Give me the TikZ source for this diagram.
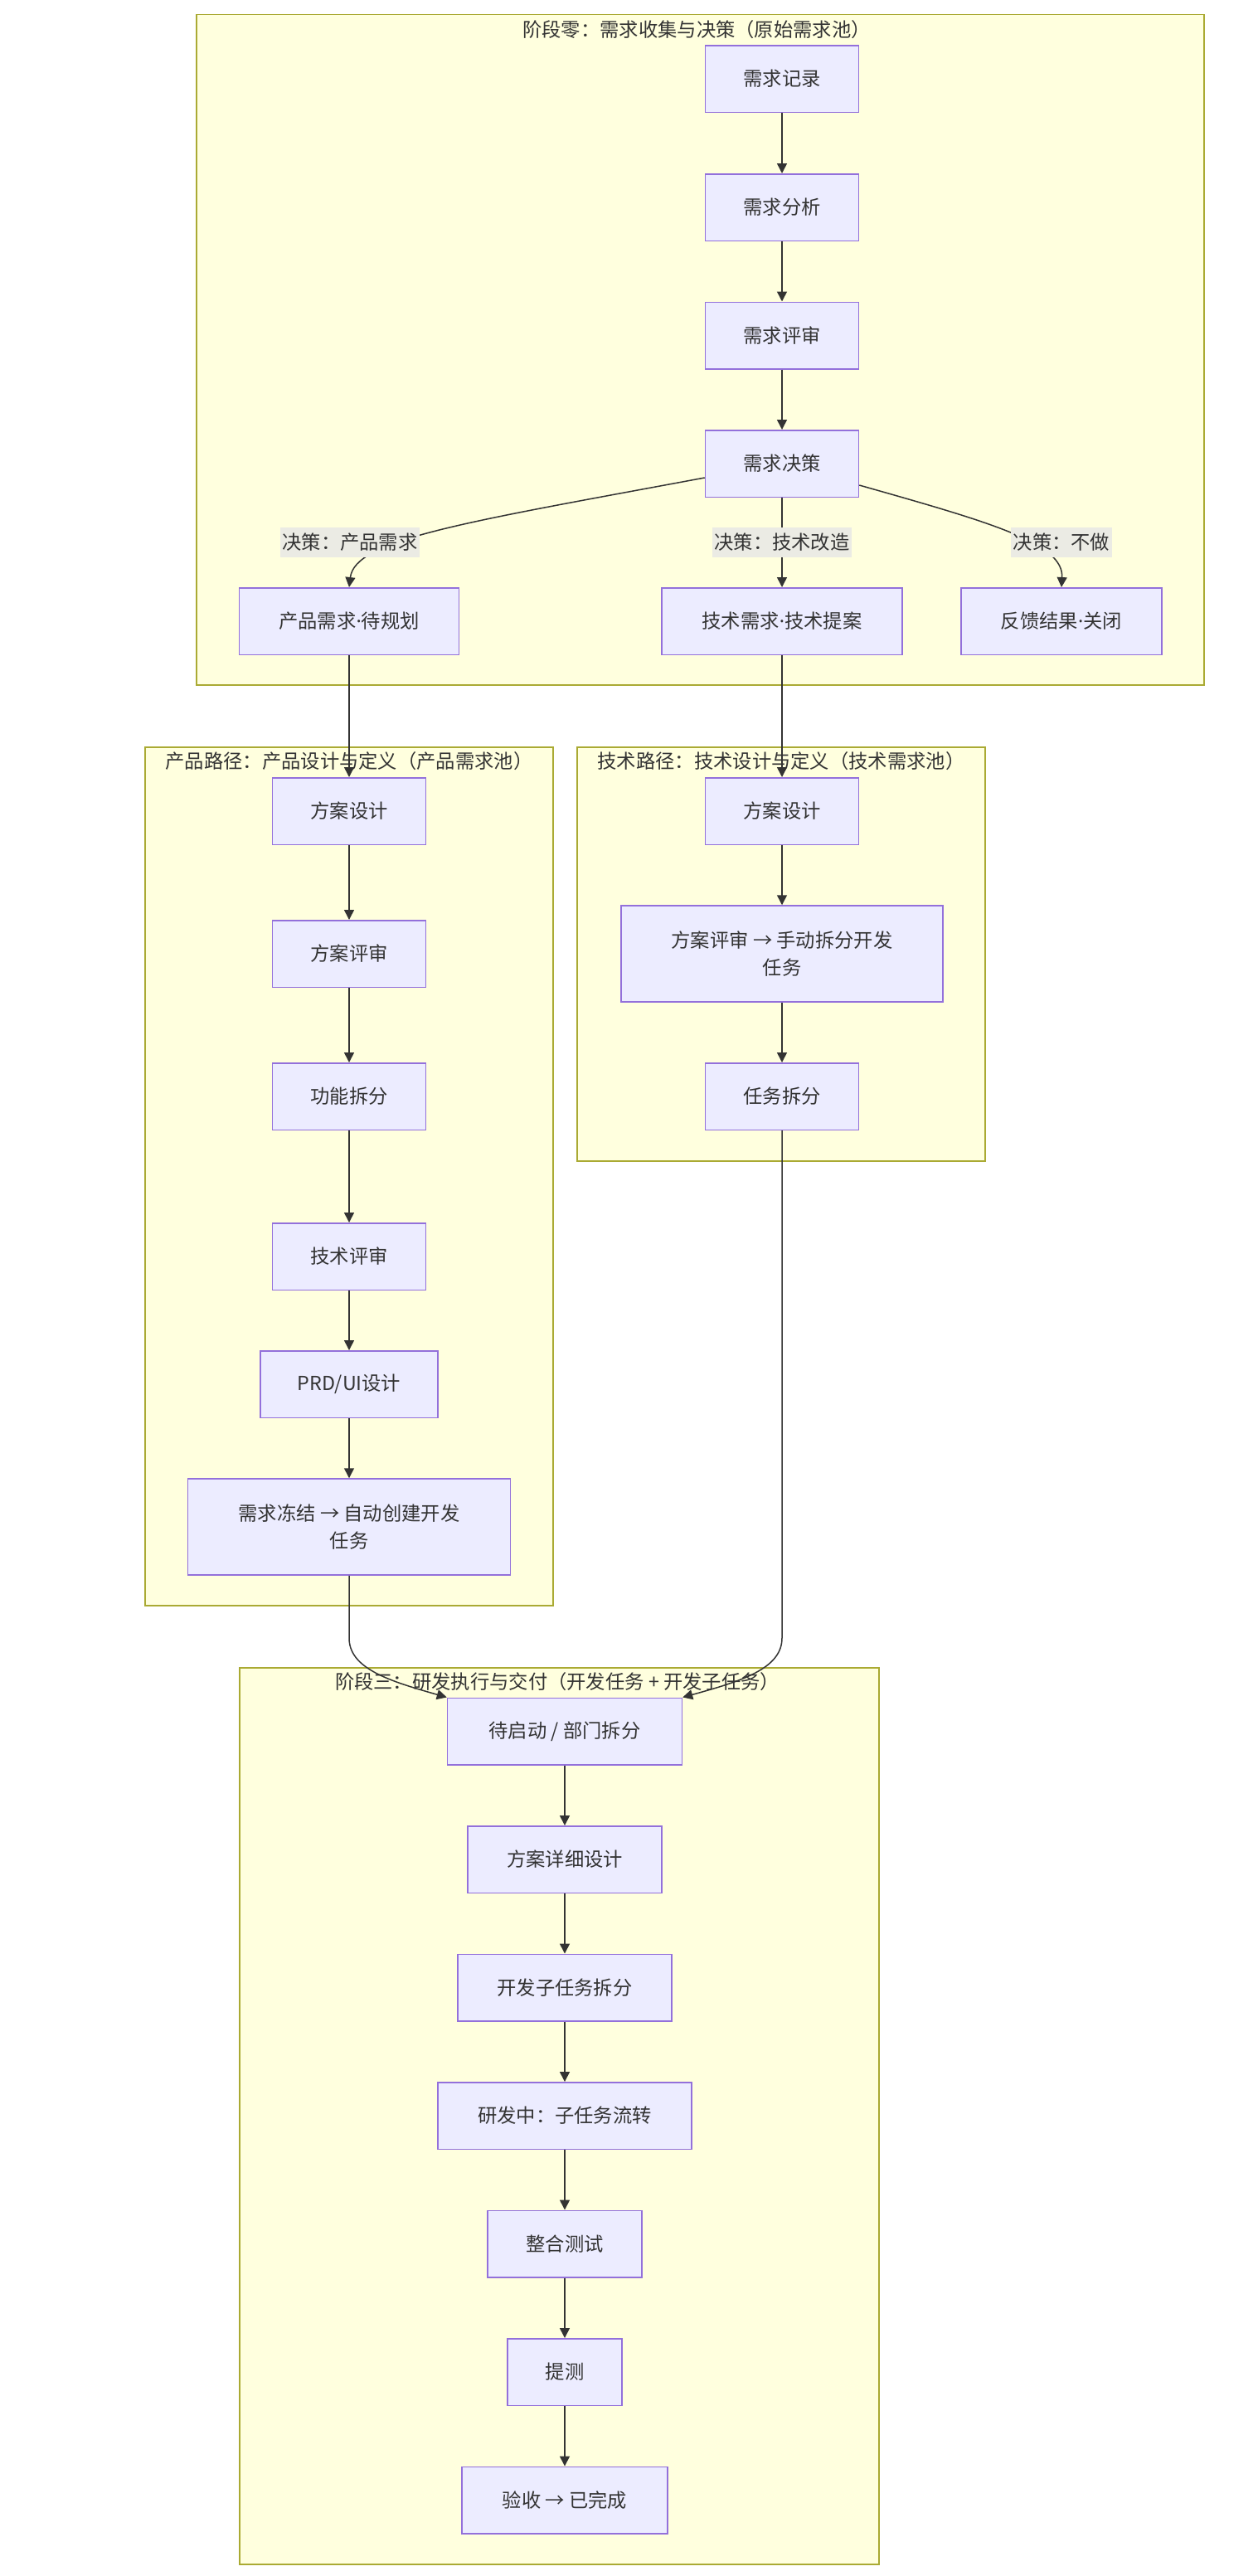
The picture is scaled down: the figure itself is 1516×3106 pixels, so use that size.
\documentclass[tikz,border=0pt]{standalone}
\usepackage{fontspec}
\setmainfont{Noto Sans CJK SC}
\newfontfamily\latinfont{Noto Sans}
\newcommand{\mdot}{{\latinfont ·}}
\usetikzlibrary{arrows.meta}
\definecolor{stagefill}{HTML}{FFFFDE}
\definecolor{stageline}{HTML}{AAAA33}
\definecolor{boxfill}{HTML}{ECECFF}
\definecolor{boxline}{HTML}{9370DB}
\definecolor{ink}{HTML}{333333}
\definecolor{lblfill}{HTML}{EBEBE4}
\tikzset{>={Triangle[length=6pt,width=6pt]},
    stage/.style={draw=stageline,fill=stagefill,line width=0.75pt},
    stagetitle/.style={text=ink,inner sep=0pt},
    box/.style={draw=boxline,fill=boxfill,line width=0.75pt,text=ink,minimum height=40.25pt,inner sep=0pt,align=center},
    bw/.style={minimum width=#1*0.5pt},
    tall/.style={minimum height=58pt},
    lbl/.style={fill=lblfill,text=ink,inner xsep=1.25pt,inner ysep=0pt,minimum height=18pt},
    link/.style={->,draw=ink,line width=0.75pt}}

\begin{document}
\begin{tikzpicture}[x=0.5pt,y=-0.5pt,font=\fontsize{11.65pt}{16.5pt}\selectfont]
    \useasboundingbox (0,0) rectangle (1516,3106);
    \draw[stage] (237,17.5) rectangle (1452,826);
    \draw[stage] (175,901) rectangle (667,1936);
    \draw[stage] (696,901) rectangle (1188,1400);
    \draw[stage] (289,2011) rectangle (1060,3092);
    \node[stagetitle] (t0) at (840,36) {阶段零：需求收集与决策（原始需求池）};
    \node[stagetitle] (t1) at (421,918) {产品路径：产品设计与定义（产品需求池）};
    \node[stagetitle] (t2) at (942,918) {技术路径：技术设计与定义（技术需求池）};
    \node[stagetitle] (t3) at (672,2028) {阶段三：研发执行与交付（开发任务 + 开发子任务）};

    \node[box,bw=185] (rec) at (943,95) {需求记录};
    \node[box,bw=185] (ana) at (943,250) {需求分析};
    \node[box,bw=185] (rev) at (943,404.5) {需求评审};
    \node[box,bw=185] (dec) at (943,559) {需求决策};
    \node[box,bw=265] (pp) at (421,749) {产品需求\mdot 待规划};
    \node[box,bw=290] (tp) at (943,749) {技术需求\mdot 技术提案};
    \node[box,bw=242] (fb) at (1280,749) {反馈结果\mdot 关闭};

    \node[box,bw=185] (pa) at (421,978) {方案设计};
    \node[box,bw=185] (pb) at (421,1150) {方案评审};
    \node[box,bw=185] (pc) at (421,1322) {功能拆分};
    \node[box,bw=185] (pd) at (421,1515) {技术评审};
    \node[box,bw=214] (pe) at (421,1669) {PRD/UI设计};
    \node[box,tall,bw=389] (pf) at (421,1841) {需求冻结 → 自动创建开发\\任务};

    \node[box,bw=185] (ta) at (943,978) {方案设计};
    \node[box,tall,bw=388] (tb) at (943,1150) {方案评审 → 手动拆分开发\\任务};
    \node[box,bw=185] (tc) at (943,1322) {任务拆分};

    \node[box,bw=283] (d1) at (681,2087.5) {待启动 / 部门拆分};
    \node[box,bw=234] (d2) at (681,2242) {方案详细设计};
    \node[box,bw=258] (d3) at (681,2396.5) {开发子任务拆分};
    \node[box,bw=306] (d4) at (681,2551) {研发中：子任务流转};
    \node[box,bw=186] (d5) at (681,2705.5) {整合测试};
    \node[box,bw=138] (d6) at (681,2860) {提测};
    \node[box,bw=248] (d7) at (681,3014.5) {验收 → 已完成};
    \coordinate (bend) at (0,1975);

    \draw[link] (rec) -- (ana);
    \draw[link] (ana) -- (rev);
    \draw[link] (rev) -- (dec);
    \draw[link] ([yshift=-8.5pt]dec.west) .. controls (560,630) and (428,650) .. (pp.north);
    \draw[link] (dec) -- (tp);
    \draw[link] ([yshift=-13pt]dec.east) .. controls (1195,630) and (1283,655) .. (fb.north);
    \draw[link] (pp) -- (pa);
    \draw[link] (tp) -- (ta);
    \draw[link] (pa) -- (pb);
    \draw[link] (pb) -- (pc);
    \draw[link] (pc) -- (pd);
    \draw[link] (pd) -- (pe);
    \draw[link] (pe) -- (pf);
    \draw[link] (ta) -- (tb);
    \draw[link] (tb) -- (tc);
    \draw[link] (pf.south) -- (pf.south |- bend) .. controls (421,2012) and (470,2027) .. (d1.north west);
    \draw[link] (tc.south) -- (tc.south |- bend) .. controls (943,2012) and (894,2027) .. (d1.north east);
    \draw[link] (d1) -- (d2);
    \draw[link] (d2) -- (d3);
    \draw[link] (d3) -- (d4);
    \draw[link] (d4) -- (d5);
    \draw[link] (d5) -- (d6);
    \draw[link] (d6) -- (d7);

    \node[lbl] (lp) at (422,654) {决策：产品需求};
    \node[lbl] (lt) at (943,654) {决策：技术改造};
    \node[lbl] (ln) at (1280,654) {决策：不做};
\end{tikzpicture}
\end{document}
